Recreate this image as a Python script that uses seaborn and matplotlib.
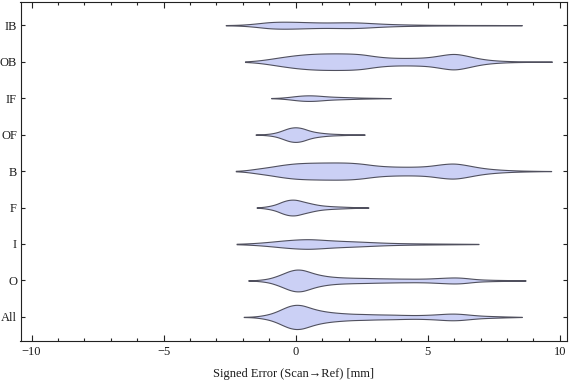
import numpy as np
import pandas as pd
import matplotlib
matplotlib.use("Agg")
import matplotlib.pyplot as plt
from matplotlib.ticker import MultipleLocator, FixedLocator
import seaborn as sns

# ---------------- data (signed error samples, mm, with repeat counts) ----------------
categories = ["IB", "OB", "IF", "OF", "B", "F", "I", "O", "All"]

ib_err = [-2.65, -2.5, -2.0, -1.5, -1.0, -0.5, 0.0, 0.5, 1.0, 1.5, 2.0, 2.5, 3.0, 3.5,
          4.0, 4.5, 5.0, 5.5, 6.0, 6.5, 7.0, 7.5, 8.0, 8.56]
ib_n = [1, 1, 5, 16, 32, 35, 33, 29, 26, 27, 29, 26, 18, 12, 8, 6, 4, 3, 3, 2, 2, 2, 1, 1]

ob_err = [-1.92, -1.5, -1.0, -0.5, 0.0, 0.5, 1.0, 1.5, 2.0, 2.5, 3.0, 3.5, 4.0, 4.5,
          5.0, 5.5, 6.0, 6.5, 7.0, 7.5, 8.0, 8.5, 9.0, 9.7]
ob_n = [1, 8, 25, 45, 62, 73, 78, 79, 78, 72, 50, 38, 35, 36, 40, 60, 83, 55, 26, 12, 6, 3, 2, 1]

if_err = [-0.93, -0.75, -0.5, -0.25, 0.0, 0.25, 0.5, 0.75, 1.0, 1.25, 1.5, 1.75, 2.0,
          2.25, 2.5, 2.75, 3.0, 3.25, 3.6]
if_n = [1, 2, 6, 12, 20, 26, 28, 26, 21, 16, 13, 11, 9, 7, 5, 4, 3, 2, 1]

of_err = [-1.52, -1.25, -1.0, -0.75, -0.5, -0.25, 0.0, 0.25, 0.5, 0.75, 1.0, 1.25, 1.5,
          1.75, 2.0, 2.25, 2.61]
of_n = [1, 3, 8, 18, 40, 65, 73, 63, 38, 24, 16, 10, 7, 5, 3, 2, 1]

b_err = [-2.27, -2.0, -1.5, -1.0, -0.5, 0.0, 0.5, 1.0, 1.5, 2.0, 2.5, 3.0, 3.5, 4.0,
         4.5, 5.0, 5.5, 6.0, 6.5, 7.0, 7.5, 8.0, 8.5, 9.0, 9.67]
b_n = [1, 3, 23, 40, 63, 78, 83, 85, 86, 85, 75, 55, 46, 43, 43, 48, 68, 82, 58, 32, 18, 10, 5, 3, 1]

f_err = [-1.48, -1.25, -1.0, -0.75, -0.5, -0.25, 0.0, 0.25, 0.5, 0.75, 1.0, 1.25, 1.5,
         1.75, 2.0, 2.25, 2.5, 2.75]
f_n = [1, 5, 15, 30, 60, 78, 79, 60, 45, 30, 20, 15, 11, 9, 6, 4, 2, 1]

i_err = [-2.24, -2.0, -1.5, -1.0, -0.5, 0.0, 0.5, 1.0, 1.5, 2.0, 2.5, 3.0, 3.5, 4.0,
         4.5, 5.0, 5.5, 6.0, 6.5, 6.92]
i_n = [1, 3, 10, 20, 33, 43, 48, 40, 32, 27, 22, 16, 11, 8, 6, 5, 4, 3, 2, 1]

o_err = [-1.8, -1.5, -1.25, -1.0, -0.75, -0.5, -0.25, 0.0, 0.25, 0.5, 0.75, 1.0, 1.25,
         1.5, 1.75, 2.0, 2.25, 2.5, 2.75, 3.0, 3.25, 3.5, 3.75, 4.0, 4.25, 4.5, 4.75,
         5.0, 5.25, 5.5, 5.75, 6.0, 6.25, 6.5, 6.75, 7.0, 7.25, 7.5, 7.75, 8.0, 8.25,
         8.5, 8.7]
o_n = [1, 4, 10, 20, 40, 65, 93, 109, 106, 85, 64, 50, 40, 34, 30, 28, 26, 25, 24, 22,
       21, 20, 19, 18, 18, 17, 18, 19, 22, 25, 28, 30, 28, 22, 15, 10, 8, 6, 5, 4, 3, 2, 1]

all_err = [-1.97, -1.75, -1.5, -1.25, -1.0, -0.75, -0.5, -0.25, 0.0, 0.25, 0.5, 0.75,
           1.0, 1.25, 1.5, 1.75, 2.0, 2.25, 2.5, 2.75, 3.0, 3.25, 3.5, 3.75, 4.0, 4.25,
           4.5, 4.75, 5.0, 5.25, 5.5, 5.75, 6.0, 6.25, 6.5, 6.75, 7.0, 7.25, 7.5, 7.75,
           8.0, 8.25, 8.56]
all_n = [1, 2, 6, 15, 28, 50, 80, 108, 121, 115, 93, 73, 59, 49, 42, 37, 33, 30, 29, 27,
         25, 24, 23, 22, 20, 19, 18, 19, 21, 24, 28, 32, 33, 30, 24, 18, 13, 10, 8, 6, 4, 3, 1]

x_ticks = [-10, -5, 0, 5, 10]
x_label = "Signed Error (Scan\u2192Ref) [mm]"

series = {
    "IB": (ib_err, ib_n), "OB": (ob_err, ob_n), "IF": (if_err, if_n),
    "OF": (of_err, of_n), "B": (b_err, b_n), "F": (f_err, f_n),
    "I": (i_err, i_n), "O": (o_err, o_n), "All": (all_err, all_n),
}

# ---------------- style ----------------
sns.set_style("ticks")
plt.rcParams["font.family"] = ["Liberation Serif", "DejaVu Serif"]
plt.rcParams["axes.unicode_minus"] = True

W, H = 576, 381
fig = plt.figure(figsize=(W / 100, H / 100), dpi=100)
ax_l, ax_r, ax_t, ax_b = 20.5, 567, 1.5, 341
ax = fig.add_axes([ax_l / W, 1 - ax_b / H, (ax_r - ax_l) / W, (ax_b - ax_t) / H])

ylim = (8.66, -0.65)
px_per_cat = (ax_b - ax_t) / (ylim[0] - ylim[1])

fill_col = "#cbd0f5"
edge_col = "#50505e"

for cat in categories:
    vals, cnts = series[cat]
    data = np.repeat(np.asarray(vals, float), cnts)
    step = np.min(np.diff(vals[1:-1]))
    h = 0.65 * step
    bw = h / np.std(data, ddof=1)
    width = 2 * (max(cnts) / 10.0) / px_per_cat
    df = pd.DataFrame({"err": data, "cat": cat})
    sns.violinplot(data=df, x="err", y="cat", order=categories, orient="h",
                   color=fill_col, saturation=1, linecolor=edge_col, linewidth=0.8,
                   inner=None, cut=0, gridsize=300, bw_method=bw,
                   density_norm="width", width=width, ax=ax)

ax.set_xlim(-10.42, 10.27)
ax.set_ylim(*ylim)
ax.xaxis.set_major_locator(FixedLocator(x_ticks))
ax.xaxis.set_minor_locator(MultipleLocator(1))
ax.set_yticks(range(len(categories)))
ax.set_yticklabels(categories)

ax.tick_params(axis="both", which="both", direction="in", top=True, right=True,
               labeltop=False, labelright=False, color="#222222", width=0.8,
               labelsize=9, labelcolor="#1a1a1a")
ax.tick_params(axis="x", which="major", length=4.0, pad=3.5)
ax.tick_params(axis="x", which="minor", length=2.2)
ax.tick_params(axis="y", which="major", length=3.2, pad=2.5)

for s in ax.spines.values():
    s.set_visible(True)
    s.set_color("#222222")
    s.set_linewidth(0.8)

ax.set_xlabel(x_label, fontsize=9, color="#1a1a1a", labelpad=7)
ax.set_ylabel("")

fig.savefig("out.png", dpi=100)
